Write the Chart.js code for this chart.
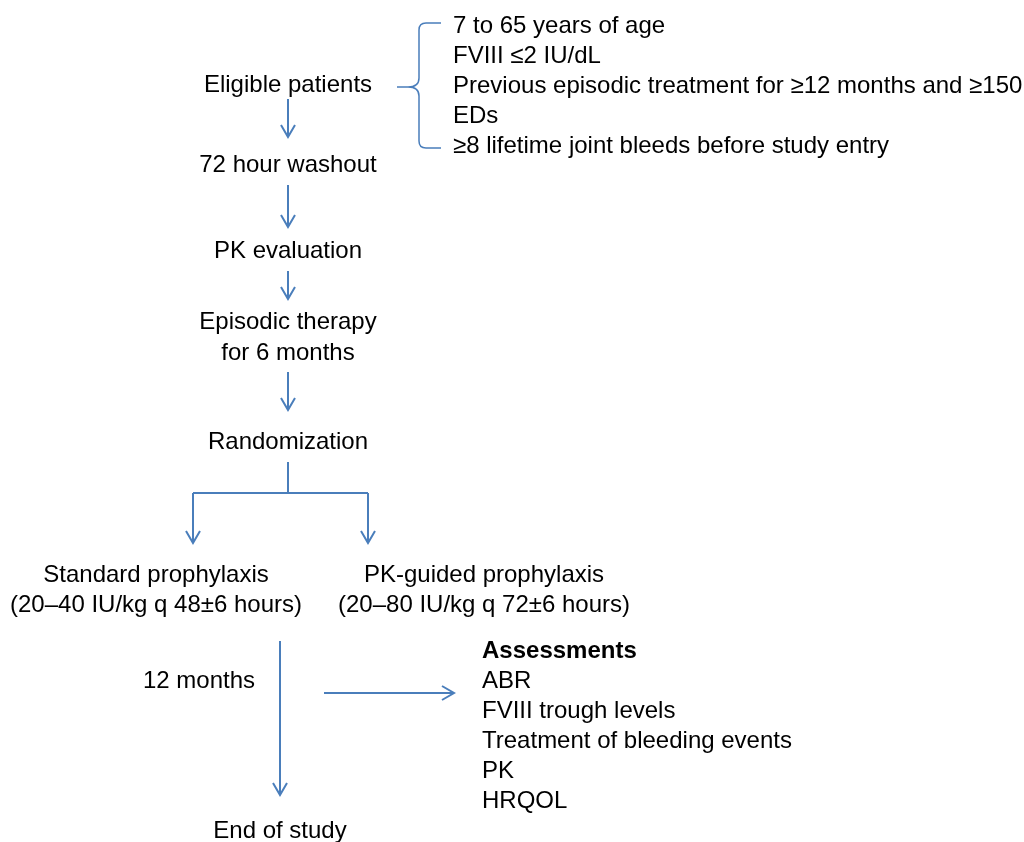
<!DOCTYPE html>
<html>
<head>
<meta charset="utf-8">
<script src="https://cdn.jsdelivr.net/npm/chart.js@4.4.1/dist/chart.umd.min.js"></script>
<style>
  body { margin: 0; background: #fff; }
  #wrap { width: 1024px; height: 842px; }
</style>
</head>
<body>
<div id="wrap"><canvas id="flow" width="1024" height="842"></canvas></div>
<script>
// flow steps (main column + branches)
const stepLabels = ["Eligible patients", "72 hour washout", "PK evaluation", "Episodic therapy", "for 6 months",
  "Randomization", "Standard prophylaxis", "(20\u201340 IU/kg q 48\u00b16 hours)",
  "PK-guided prophylaxis", "(20\u201380 IU/kg q 72\u00b16 hours)", "12 months", "End of study"];
const stepX = [288, 288, 288, 288, 288, 288, 156, 156, 484, 484, 199, 280];
const stepY = [92, 172, 258, 329, 360, 449, 582, 612, 582, 612, 688, 838];

// inclusion criteria (right of the brace)
const criteria = ["7 to 65 years of age", "FVIII \u22642 IU/dL",
  "Previous episodic treatment for \u226512 months and \u2265150", "EDs",
  "\u22658 lifetime joint bleeds before study entry"];
const criteriaY = [33, 63, 93, 123, 153];

// assessments list
const assessTitle = "Assessments";
const assessments = ["ABR", "FVIII trough levels", "Treatment of bleeding events", "PK", "HRQOL"];
const assessY = [688, 718, 748, 778, 808];

// connectors: [x1, y1, x2, y2, arrowhead]
const links = [
  [288, 99, 288, 137, true],
  [288, 185, 288, 227, true],
  [288, 271, 288, 299, true],
  [288, 372, 288, 410, true],
  [288, 462, 288, 493, false],
  [193, 493, 368, 493, false],
  [193, 493, 193, 543, true],
  [368, 493, 368, 543, true],
  [280, 641, 280, 795, true],
  [324, 693, 454, 693, true]
];

const BLUE = "#4a7ebb";
const FONT = '"Liberation Sans", Arial, sans-serif';

const datasets = links.map(l => ({
  data: [{ x: l[0], y: l[1] }, { x: l[2], y: l[3] }],
  arrow: l[4],
  showLine: true,
  borderColor: BLUE,
  borderWidth: 2,
  pointRadius: 0,
  fill: false
}));

const flowPlugin = {
  id: "flowText",
  afterDatasetsDraw(chart) {
    const ctx = chart.ctx;
    const xs = chart.scales.x, ys = chart.scales.y;
    const px = v => xs.getPixelForValue(v);
    const py = v => ys.getPixelForValue(v);

    // arrow heads
    ctx.save();
    ctx.strokeStyle = BLUE;
    ctx.lineWidth = 2;
    chart.data.datasets.forEach((ds, i) => {
      if (!ds.arrow) return;
      const pts = chart.getDatasetMeta(i).data;
      const a = pts[0], b = pts[1];
      const ang = Math.atan2(b.y - a.y, b.x - a.x);
      const len = 12, w = 7;
      ctx.beginPath();
      ctx.moveTo(b.x - len * Math.cos(ang) + w * Math.sin(ang), b.y - len * Math.sin(ang) - w * Math.cos(ang));
      ctx.lineTo(b.x, b.y);
      ctx.lineTo(b.x - len * Math.cos(ang) - w * Math.sin(ang), b.y - len * Math.sin(ang) + w * Math.cos(ang));
      ctx.stroke();
    });

    // brace
    ctx.lineWidth = 1.5;
    ctx.beginPath();
    ctx.moveTo(px(441), py(23));
    ctx.lineTo(px(426), py(23));
    ctx.quadraticCurveTo(px(419), py(23), px(419), py(30));
    ctx.lineTo(px(419), py(78));
    ctx.quadraticCurveTo(px(419), py(87), px(408), py(87));
    ctx.lineTo(px(397), py(87));
    ctx.moveTo(px(408), py(87));
    ctx.quadraticCurveTo(px(419), py(87), px(419), py(96));
    ctx.lineTo(px(419), py(141));
    ctx.quadraticCurveTo(px(419), py(148), px(426), py(148));
    ctx.lineTo(px(441), py(148));
    ctx.stroke();
    ctx.restore();

    // texts
    ctx.save();
    ctx.fillStyle = "#000";
    ctx.textBaseline = "alphabetic";
    ctx.font = "24px " + FONT;
    ctx.textAlign = "center";
    stepLabels.forEach((t, i) => ctx.fillText(t, px(stepX[i]), py(stepY[i])));
    ctx.textAlign = "left";
    criteria.forEach((t, i) => ctx.fillText(t, px(453), py(criteriaY[i])));
    assessments.forEach((t, i) => ctx.fillText(t, px(482), py(assessY[i])));
    ctx.font = "bold 24px " + FONT;
    ctx.fillText(assessTitle, px(482), py(658));
    ctx.restore();
  }
};

new Chart(document.getElementById("flow").getContext("2d"), {
  type: "scatter",
  data: { datasets: datasets },
  options: {
    responsive: false,
    animation: false,
    layout: { padding: 0 },
    plugins: { legend: { display: false }, tooltip: { enabled: false } },
    scales: {
      x: { type: "linear", min: 0, max: 1024, display: false },
      y: { type: "linear", min: 0, max: 842, reverse: true, display: false }
    }
  },
  plugins: [flowPlugin]
});
</script>
</body>
</html>
